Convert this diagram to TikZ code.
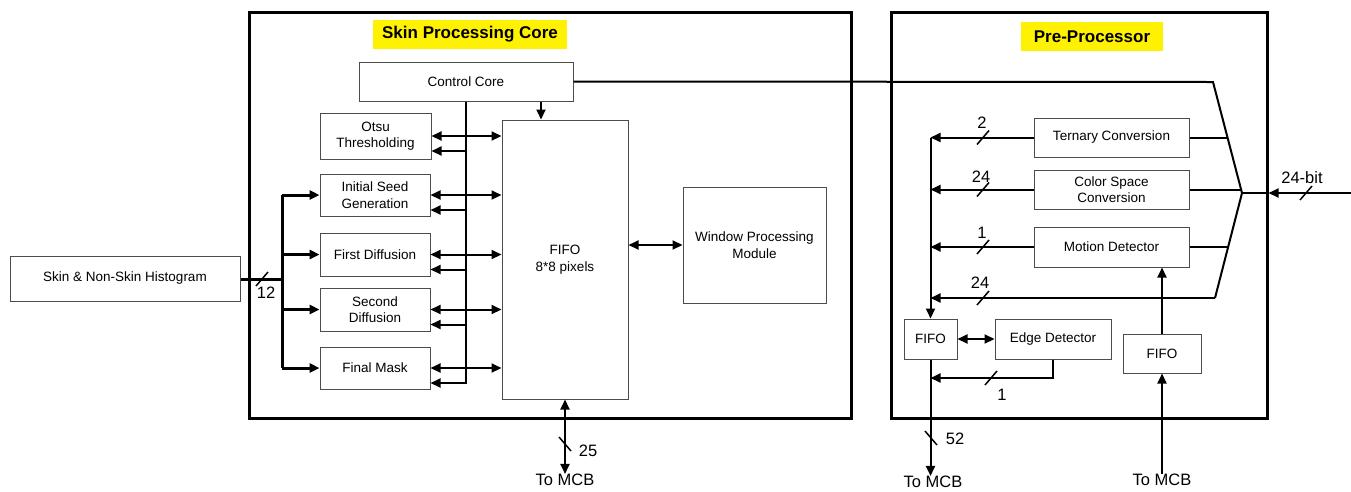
\documentclass[tikz,border=0pt]{standalone}
\usepackage{fontspec}
\setmainfont{Liberation Sans}
\usetikzlibrary{calc,arrows.meta,positioning}
\tikzset{
  blk/.style    = {draw=black!70, line width=1pt, fill=white, align=center,
                   inner sep=0pt, font=\fontsize{13.5}{16.5}\selectfont},
  frame/.style  = {draw, line width=3pt, inner sep=0pt},
  ttl/.style    = {fill=yellow, inner sep=0pt, font=\fontsize{17}{19}\selectfont\bfseries},
  lab/.style    = {inner sep=0pt, font=\fontsize{16.5}{18}\selectfont},
  wire/.style   = {line width=2pt},
  bus/.style    = {line width=3pt},
  arr/.style    = {-{Triangle[length=10pt,width=9pt]}, line width=2pt},
  busarr/.style = {-{Triangle[length=10pt,width=9pt]}, line width=3pt},
  dbl/.style    = {{Triangle[length=10pt,width=9pt]}-{Triangle[length=10pt,width=9pt]}, line width=2pt},
  hmark/.pic    = {\draw[line width=1.5pt] (-6,7) -- (6,-7);},
  vmark/.pic    = {\draw[line width=1.5pt] (-6,-7) -- (6,7);},
}
\begin{document}
\begin{tikzpicture}[x=1pt,y=-1pt]
\useasboundingbox (0,0) rectangle (1351,491);

\node[frame, minimum width=602pt, minimum height=406pt] (spc) at (550,215) {};
\node[frame, minimum width=376pt, minimum height=406pt] (pre) at (1079,215) {};
\node[ttl, minimum width=194pt, minimum height=29pt] (t1) at (470,34.5) {Skin Processing Core};
\node[ttl, minimum width=142pt, minimum height=29pt] (t2) at (1092,36.5) {Pre-Processor};

\node[blk, minimum width=230pt, minimum height=45pt] (hist) at (125,278.5) {Skin \& Non-Skin Histogram};
\node[blk, minimum width=214pt, minimum height=39pt] (cc) at (466,81.5) {Control Core};
\node[blk, minimum width=111pt, minimum height=46pt] (otsu) at (375.5,136) {Otsu\\Thresholding};
\node[blk, minimum width=110pt, minimum height=42pt] (seed) at (375,195) {Initial Seed\\Generation};
\node[blk, minimum width=110pt, minimum height=43pt] (fd) at (375,254.5) {First Diffusion};
\node[blk, minimum width=110pt, minimum height=43pt] (sd) at (375,309.5) {Second\\Diffusion};
\node[blk, minimum width=110pt, minimum height=42pt] (mask) at (375,368) {Final Mask};
\node[blk, minimum width=126pt, minimum height=279pt] (fifo) at (565,259.5) {FIFO\\8*8 pixels};
\node[blk, minimum width=143pt, minimum height=116pt] (win) at (754.5,245) {Window Processing\\Module};
\node[lab] (mcb0) at (565,480) {To MCB};

\node[blk, minimum width=155pt, minimum height=39pt] (tern) at (1111.5,137.5) {Ternary Conversion};
\node[blk, minimum width=155pt, minimum height=39pt] (csc) at (1111.5,189.5) {Color Space\\Conversion};
\node[blk, minimum width=155pt, minimum height=40pt] (mot) at (1111.5,247) {Motion Detector};
\node[blk, minimum width=53pt, minimum height=40pt] (ff1) at (930.5,339) {FIFO};
\node[blk, minimum width=116pt, minimum height=40pt] (edge) at (1053,339) {Edge Detector};
\node[blk, minimum width=78pt, minimum height=39pt] (ff2) at (1162,353.5) {FIFO};
\node[lab] (mcb1) at (933,482) {To MCB};
\node[lab] (mcb2) at (1162,480) {To MCB};

\coordinate (bus) at (282,279);
\coordinate (ctl) at (466,384);
\coordinate (mt) at (1213,82);
\coordinate (mux) at (1242,193);
\coordinate (mb) at (1215,298);
\coordinate (in) at (1351,193);
\coordinate (eb) at (1053,378);

\draw[bus] (hist.east |- bus) -- (bus);
\draw[bus] (bus |- seed) -- (bus |- mask);
\foreach \b in {seed,fd,sd,mask}
  \draw[busarr] (bus |- \b) -- (\b.west);
\pic at (262,279) {hmark};
\node[lab] (n12) at (266,293) {12};

\draw[wire] (cc.south -| ctl) -- (ctl);
\foreach \b in {otsu,seed,fd,sd,mask}{
  \draw[dbl] (\b.east) -- (\b.east -| fifo.west);
  \coordinate (t) at ($(\b.east)+(0,15)$);
  \draw[arr] (t -| ctl) -- (t);
}
\draw[arr] (cc.south -| 541,0) -- (fifo.north -| 541,0);
\draw[dbl] (fifo.east |- win) -- (win.west);
\draw[dbl] (fifo.south) -- (mcb0.north);
\pic at (565,444) {vmark};
\node[lab] (n25) at (588,451) {25};

\draw[wire] (cc.east) -- (mt) -- (mux) -- (mb);
\draw[wire] (tern.east) -- (tern.east -| {$(mt)!0.505!(mux)$});
\draw[wire] (csc.east) -- (csc.east -| {$(mt)!0.97!(mux)$});
\draw[wire] (mot.east) -- (mot.east -| {$(mux)!0.514!(mb)$});
\draw[arr] (in) -- (pre.east |- in);
\draw[wire] (pre.east |- in) -- (mux);
\pic at (1306,193) {hmark};
\node[lab] (n24b) at (1302,178) {24-bit};

\foreach \b/\w in {tern/2,csc/24,mot/1}{
  \draw[arr] (\b.west) -- (\b.west -| ff1);
  \pic at (983,0 |- \b.west) {hmark};
}
\draw[arr] (mb) -- (mb -| ff1);
\pic at (983,298) {hmark};
\node[lab] (n2) at (982,123) {2};
\node[lab] (n24a) at (981,177) {24};
\node[lab] (n1a) at (982,233) {1};
\node[lab] (n24c) at (980,283) {24};
\draw[arr] (ff1 |- tern.west) -- (ff1.north);
\draw[dbl] (ff1.east) -- (edge.west);
\draw[arr] (edge.south) -- (eb) -- (eb -| ff1);
\pic at (991,378) {hmark};
\node[lab] (n1b) at (1002,395) {1};
\draw[arr] (ff1.south) -- (ff1.south |- mcb1.north);
\pic at (931,438) {vmark};
\node[lab] (n52) at (955,439) {52};
\draw[arr] (mcb2.north) -- (ff2.south);
\draw[arr] (ff2.north) -- (ff2.north |- mot.south);
\end{tikzpicture}
\end{document}
